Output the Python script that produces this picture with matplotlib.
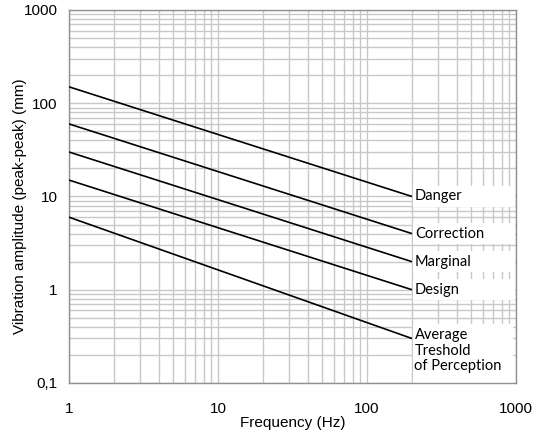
import matplotlib

matplotlib.use("Agg")
import matplotlib.pyplot as plt
from matplotlib.patches import Rectangle
from matplotlib.ticker import FixedLocator, FixedFormatter, LogLocator, NullFormatter

# line endpoints (frequency Hz, amplitude mm)
freq = [1, 200]
danger = [150, 10]
correction = [60, 4]
marginal = [30, 2]
design = [15, 1]
perception = [6, 0.3]

names = ["Danger", "Correction", "Marginal", "Design", "Average\nTreshold\nof Perception"]
series = [danger, correction, marginal, design, perception]

x_ticks = [1, 10, 100, 1000]
x_labels = ["1", "10", "100", "1000"]
y_ticks = [0.1, 1, 10, 100, 1000]
y_labels = ["0,1", "1", "10", "100", "1000"]

plt.rcParams["font.family"] = ["Liberation Sans", "DejaVu Sans"]
label_font = ["Lato", "DejaVu Sans"]

fig = plt.figure(figsize=(5.41, 4.36), dpi=100)
ax = fig.add_axes([0.1275, 0.1216, 0.8265, 0.8555])

ax.set_xscale("log")
ax.set_yscale("log")
ax.set_xlim(1, 1000)
ax.set_ylim(0.1, 1000)

ax.xaxis.set_major_locator(FixedLocator(x_ticks))
ax.xaxis.set_major_formatter(FixedFormatter(x_labels))
ax.yaxis.set_major_locator(FixedLocator(y_ticks))
ax.yaxis.set_major_formatter(FixedFormatter(y_labels))
ax.xaxis.set_minor_locator(LogLocator(base=10, subs=range(2, 10)))
ax.yaxis.set_minor_locator(LogLocator(base=10, subs=range(2, 10)))
ax.xaxis.set_minor_formatter(NullFormatter())
ax.yaxis.set_minor_formatter(NullFormatter())

ax.grid(True, which="both", color="#c8c8c8", linewidth=1.0)
ax.tick_params(which="both", length=0, labelsize=11, colors="black")
ax.tick_params(axis="x", pad=14)
ax.tick_params(axis="y", pad=8)
for sp in ax.spines.values():
    sp.set_color("#909090")
    sp.set_linewidth(1.0)

half = 10 ** 0.11  # half height of label boxes (log units)
for name, vals in zip(names, series):
    ax.plot(freq, vals, color="black", linewidth=1.2, solid_capstyle="butt", zorder=3)
    end = vals[1]
    if "\n" in name:
        ax.add_patch(Rectangle((203, 0.1), 950 - 203, end * 1.43 - 0.1,
                               facecolor="white", edgecolor="none", zorder=2.5))
        ax.text(208, end * 1.3, name, ha="left", va="top", fontsize=10.5,
                family=label_font, linespacing=1.15, zorder=4)
    else:
        ax.add_patch(Rectangle((203, end / half), 990 - 203, end * half - end / half,
                               facecolor="white", edgecolor="none", zorder=2.5))
        ax.text(210, end, name, ha="left", va="center", fontsize=10.5,
                family=label_font, zorder=4)

ax.set_xlabel("Frequency (Hz)", fontsize=11, labelpad=0)
ax.set_ylabel("Vibration amplitude (peak-peak) (mm)", fontsize=11)
ax.yaxis.set_label_coords(-0.094, 0.475)

fig.savefig("out.png", dpi=100, facecolor="white")
